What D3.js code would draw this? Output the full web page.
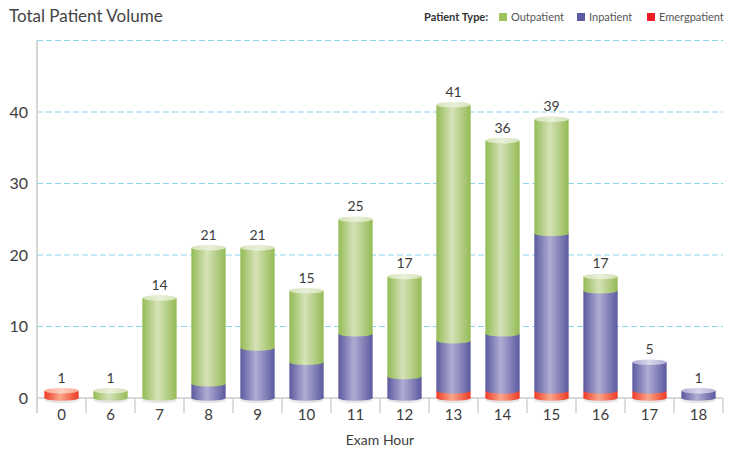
<!DOCTYPE html>
<html>
<head>
<meta charset="utf-8">
<script src="https://cdn.jsdelivr.net/npm/d3@7"></script>
<style>
  html, body { margin: 0; padding: 0; background: #fff; }
  svg { display: block; font-family: "Lato", "Open Sans", sans-serif; }
</style>
</head>
<body>
<svg id="chart" width="738" height="450"></svg>
<script>
// Exam hours and patient counts per type
const hours = ["0", "6", "7", "8", "9", "10", "11", "12", "13", "14", "15", "16", "17", "18"];
const emergpatient = [1, 0, 0, 0, 0, 0, 0, 0, 1, 1, 1, 1, 1, 0];
const inpatient    = [0, 0, 0, 2, 7, 5, 9, 3, 7, 8, 22, 14, 4, 1];
const outpatient   = [0, 1, 14, 19, 14, 10, 16, 14, 33, 27, 16, 2, 0, 0];
const yTicks = [0, 10, 20, 30, 40];
const gridValues = [10, 20, 30, 40, 50];

// Series stacked bottom-up
const seriesKeys = ["Emergpatient", "Inpatient", "Outpatient"];
const seriesInfo = {
  Emergpatient: { edge: "#ee3a26", mid: "#f8a68a", cap: "#fbd0c2", legend: "#ee1c25" },
  Inpatient:    { edge: "#5c5a9f", mid: "#b0acd4", cap: "#d9d7ec", legend: "#5b5aa2" },
  Outpatient:   { edge: "#93bb55", mid: "#d6e2b8", cap: "#e8f0d8", legend: "#9cc35c" }
};

const rows = hours.map((h, i) => ({
  hour: h,
  Emergpatient: emergpatient[i],
  Inpatient: inpatient[i],
  Outpatient: outpatient[i]
}));

const svg = d3.select("#chart");
const margin = { left: 37, right: 15, top: 40, bottom: 52 };
const W = 738, H = 450;
const plotBottom = 398;
const textColor = "#3c3c3c";

const x = d3.scaleBand()
  .domain(hours)
  .range([margin.left, W - margin.right])
  .paddingInner(0.3)
  .paddingOuter(0.15);

const y = d3.scaleLinear().domain([0, 50]).range([plotBottom, plotBottom - 357.5]);

// Gradients for cylinder bodies and caps
const defs = svg.append("defs");
seriesKeys.forEach(k => {
  const c = seriesInfo[k];
  const g = defs.append("linearGradient").attr("id", "body-" + k)
    .attr("x1", "0%").attr("x2", "100%").attr("y1", "0%").attr("y2", "0%");
  g.append("stop").attr("offset", "0%").attr("stop-color", c.edge);
  g.append("stop").attr("offset", "45%").attr("stop-color", c.mid);
  g.append("stop").attr("offset", "100%").attr("stop-color", c.edge);
  const t = defs.append("linearGradient").attr("id", "cap-" + k)
    .attr("x1", "0%").attr("x2", "100%").attr("y1", "0%").attr("y2", "0%");
  t.append("stop").attr("offset", "0%").attr("stop-color", c.mid);
  t.append("stop").attr("offset", "50%").attr("stop-color", c.cap);
  t.append("stop").attr("offset", "100%").attr("stop-color", c.mid);
});

// Title
svg.append("text").attr("x", 9).attr("y", 22)
  .attr("font-size", 17).attr("fill", "#444").text("Total Patient Volume");

// Legend
const legend = svg.append("g").attr("font-size", 11);
legend.append("text").attr("x", 424).attr("y", 21).attr("font-weight", "bold")
  .attr("fill", "#333").text("Patient Type:");
const legendItems = [
  { key: "Outpatient", x: 499 },
  { key: "Inpatient", x: 577 },
  { key: "Emergpatient", x: 647 }
];
legendItems.forEach(it => {
  legend.append("rect").attr("x", it.x).attr("y", 13).attr("width", 8).attr("height", 8)
    .attr("fill", seriesInfo[it.key].legend);
  legend.append("text").attr("x", it.x + 12).attr("y", 21).attr("fill", "#555").text(it.key);
});

// Grid lines
svg.append("g").selectAll("line").data(gridValues).join("line")
  .attr("x1", margin.left).attr("x2", W - margin.right)
  .attr("y1", d => y(d)).attr("y2", d => y(d))
  .attr("stroke", "#8fd4ef").attr("stroke-width", 1.2)
  .attr("stroke-dasharray", "6,3");

// Y axis
const yAxis = svg.append("g").attr("transform", `translate(${margin.left},0)`)
  .call(d3.axisLeft(y).tickValues(yTicks).tickSize(0).tickPadding(9));
yAxis.select(".domain").remove();
yAxis.selectAll("text").attr("font-size", 16).attr("fill", textColor)
  .attr("font-family", "Lato, sans-serif");
svg.append("line").attr("x1", margin.left).attr("x2", margin.left)
  .attr("y1", y(50)).attr("y2", plotBottom + 15)
  .attr("stroke", "#c8c8c8").attr("stroke-width", 1.5);

// X axis baseline and category separators
const step = x.step();
const x0 = x(hours[0]) - step * x.paddingOuter();
svg.append("line").attr("x1", margin.left).attr("x2", W - margin.right)
  .attr("y1", plotBottom).attr("y2", plotBottom)
  .attr("stroke", "#cccccc").attr("stroke-width", 1.5);
svg.append("g").selectAll("line").data(d3.range(1, hours.length + 1)).join("line")
  .attr("x1", i => x0 + i * step).attr("x2", i => x0 + i * step)
  .attr("y1", plotBottom).attr("y2", plotBottom + 15)
  .attr("stroke", "#d0d0d0").attr("stroke-width", 1.5);

const xAxis = svg.append("g").attr("transform", `translate(0,${plotBottom})`)
  .call(d3.axisBottom(x).tickSize(0).tickPadding(11));
xAxis.select(".domain").remove();
xAxis.selectAll("text").attr("font-size", 15).attr("fill", textColor)
  .attr("font-family", "Lato, sans-serif");

svg.append("text").attr("x", (margin.left + W - margin.right) / 2).attr("y", 445)
  .attr("text-anchor", "middle").attr("font-size", 14).attr("fill", textColor)
  .text("Exam Hour");

// Stacked cylinders
const stack = d3.stack().keys(seriesKeys)(rows);
const bw = x.bandwidth();
const ry = 2.8;
const bars = svg.append("g");

rows.forEach((row, i) => {
  const cx = x(row.hour) + bw / 2;
  const layers = stack.map(s => ({ key: s.key, y0: s[i][0], y1: s[i][1] }))
    .filter(l => l.y1 > l.y0);
  const topKey = layers.length ? layers[layers.length - 1].key : null;
  // soft shadow under the base
  if (layers.length) {
    bars.append("ellipse").attr("cx", cx).attr("cy", plotBottom + 2)
      .attr("rx", bw / 2).attr("ry", ry + 0.5).attr("fill", "#e6e6e6");
  }
  layers.forEach(l => {
    const yTop = y(l.y1), yBot = y(l.y0);
    const g = bars.append("g");
    g.append("ellipse").attr("cx", cx).attr("cy", yBot)
      .attr("rx", bw / 2).attr("ry", ry).attr("fill", `url(#body-${l.key})`);
    g.append("rect").attr("x", cx - bw / 2).attr("y", yTop)
      .attr("width", bw).attr("height", yBot - yTop)
      .attr("fill", `url(#body-${l.key})`);
    if (l.key === topKey) {
      g.append("ellipse").attr("cx", cx).attr("cy", yTop)
        .attr("rx", bw / 2).attr("ry", ry).attr("fill", `url(#cap-${l.key})`);
    }
  });
});

// Total labels
const totals = rows.map((r, i) => emergpatient[i] + inpatient[i] + outpatient[i]);
svg.append("g").selectAll("text").data(rows).join("text")
  .attr("x", d => x(d.hour) + bw / 2)
  .attr("y", (d, i) => y(totals[i]) - 8)
  .attr("text-anchor", "middle").attr("font-size", 14).attr("fill", textColor)
  .text((d, i) => totals[i]);
</script>
</body>
</html>
